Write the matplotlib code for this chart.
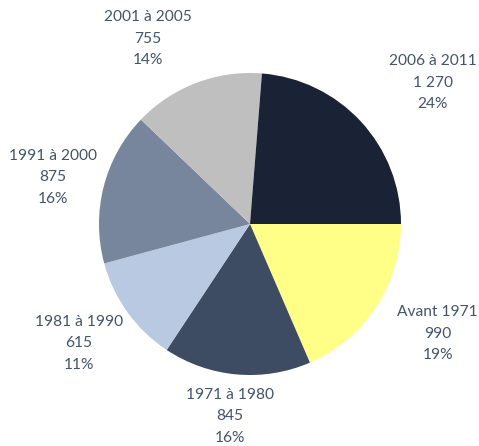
import numpy as np
import matplotlib
matplotlib.use("Agg")
import matplotlib.pyplot as plt

plt.rcParams['font.family'] = ['Lato', 'DejaVu Sans']

# données (sens horaire depuis 3 heures)
periodes = ["Avant 1971", "1971 à 1980", "1981 à 1990", "1991 à 2000", "2001 à 2005", "2006 à 2011"]
valeurs = [990, 845, 615, 875, 755, 1270]
valeurs_txt = ["990", "845", "615", "875", "755", "1 270"]
couleurs = ["#FFFF88", "#3D4B63", "#B9C9E1", "#77869C", "#BFBFBF", "#1A2235"]

# position des étiquettes : distance au centre (en rayons) et décalage d'angle
dist = [1.44, 1.28, 1.38, 1.34, 1.40, 1.53]
decal = [3, -1, -1, 1, 8, -5]

fig = plt.figure(figsize=(4.79, 4.46), dpi=100)
ax = fig.add_axes([0, 0, 1, 1])
r = 151.0

wedges, _ = ax.pie(valeurs, colors=couleurs, startangle=0, counterclock=False,
                   radius=1, frame=True)
ax.set_xlim(-250 / r, (479 - 250) / r)
ax.set_ylim(-222 / r, 224 / r)
ax.set_aspect('auto')
ax.axis('off')

total = sum(valeurs)
for w, p, v, d, da in zip(wedges, periodes, valeurs_txt, dist, decal):
    ang = np.deg2rad((w.theta1 + w.theta2) / 2 + da)
    pct = "{:.0f}%".format(100.0 * float(v.replace(" ", "")) / total)
    ax.text(d * np.cos(ang), d * np.sin(ang), p + "\n" + v + "\n" + pct,
            ha='center', va='center', fontsize=11.2, color="#44546A",
            linespacing=1.68)

fig.savefig("out.png", dpi=100)
